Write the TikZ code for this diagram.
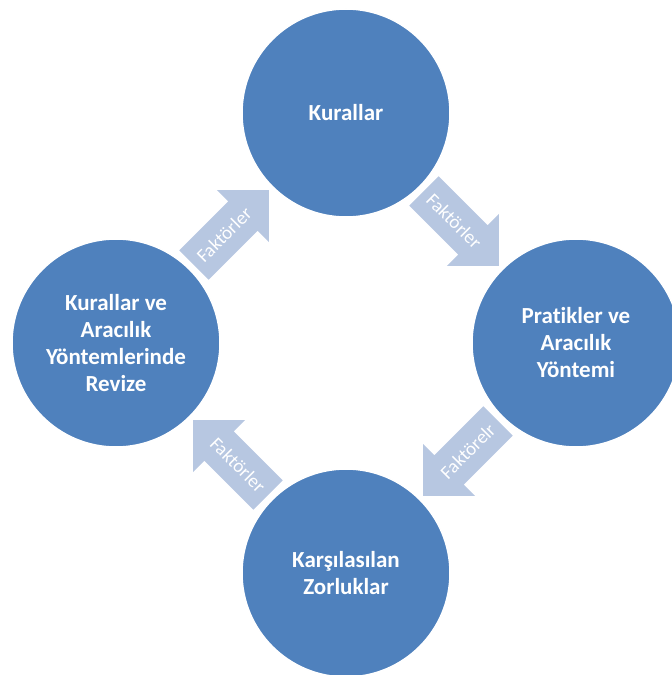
\documentclass[tikz,border=0pt]{standalone}
\usepackage{fontspec}
\setmainfont{Carlito}[Ligatures=NoCommon]
\usepackage{tikz}
\usetikzlibrary{shapes.arrows, calc}
\definecolor{circblue}{HTML}{4F81BD}
\definecolor{arrblue}{HTML}{B7C7E1}

\begin{document}
\begin{tikzpicture}[x=1pt, y=1pt]
\tikzstyle{bubble}=[circle, fill=circblue, draw=white, line width=1.5pt, minimum size=208pt, inner sep=0pt, text=white, align=center, font=\fontsize{23}{27}\selectfont\bfseries]
\tikzstyle{fakt}=[single arrow, fill=arrblue, minimum height=106pt, single arrow head extend=16pt, single arrow tip angle=90, text height=13pt, text depth=0pt, inner xsep=2pt, inner ysep=14pt, text=white, font=\fontsize{19}{20}\selectfont]

\useasboundingbox (-346,-332) rectangle (326,343);

\node[bubble] (kur) at (90:230) {Kurallar};
\node[bubble] (pra) at (0:230) {Pratikler ve\\Aracılık\\Yöntemi};
\node[bubble] (kar) at (270:230) {Karşılasılan\\Zorluklar};
\node[bubble] (rev) at (180:230) {Kurallar ve\\Aracılık\\Yöntemlerinde\\Revize};

\foreach \a/\b/\r/\s/\t in {rev/kur/45/0/Faktörler, kur/pra/-45/0/Faktörler, pra/kar/45/180/Faktörelr, kar/rev/-45/180/Faktörler}
   \node[fakt, rotate=\r, shape border rotate=\s] (f-\a) at ($(\a)!.47!(\b)$) {\t};

\end{tikzpicture}
\end{document}
